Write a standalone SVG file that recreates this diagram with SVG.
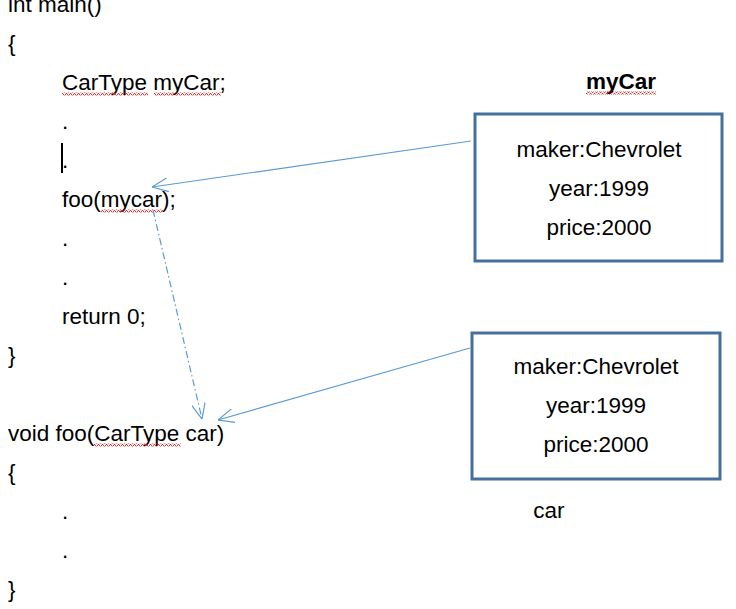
<svg xmlns="http://www.w3.org/2000/svg" width="736" height="609" viewBox="0 0 736 609">
<style>
.code{font-family:"Liberation Sans",Arial,sans-serif;font-size:22.5px;fill:#000}
.val{font-family:"Liberation Sans",Arial,sans-serif;font-size:22.5px;fill:#000;text-anchor:middle}
.bold{font-weight:bold}
.box{fill:#fff;stroke:#45709c;stroke-width:3}
.conn{fill:none;stroke:#5b9bd5;stroke-width:1.2}
.dashdot{stroke-dasharray:7 3 1.5 3}
</style>
<defs>
<marker id="open" viewBox="0 0 16 14" refX="16" refY="7" markerWidth="16" markerHeight="14" markerUnits="userSpaceOnUse" orient="auto">
<path d="M0,0 L16,7 L0,14" fill="none" stroke="#5b9bd5" stroke-width="1.2"/>
</marker>
<pattern id="squig" width="4" height="3" patternUnits="userSpaceOnUse">
<path d="M0,2.5 L1,2.5 L2,0.5 L3,0.5 L4,2.5" fill="none" stroke="#e02020" stroke-width="0.9"/>
</pattern>
</defs>
<rect width="736" height="609" fill="#fff"/>

<g id="code">
<text class="code" x="8" y="12">int main()</text>
<text class="code" x="8" y="51">{</text>
<text class="code" x="62" y="90">CarType myCar;</text>
<text class="code" x="62" y="129">.</text>
<text class="code" x="62" y="168">.</text>
<text class="code" x="62" y="207">foo(mycar);</text>
<text class="code" x="62" y="246">.</text>
<text class="code" x="62" y="285">.</text>
<text class="code" x="62" y="324">return 0;</text>
<text class="code" x="8" y="363">}</text>
<text class="code" x="8" y="441">void foo(CarType car)</text>
<text class="code" x="8" y="480">{</text>
<text class="code" x="62" y="519">.</text>
<text class="code" x="62" y="558">.</text>
<text class="code" x="8" y="597">}</text>
<line x1="62" y1="143" x2="62" y2="173" stroke="#000" stroke-width="2"/>
<rect x="62" y="92.5" width="86" height="3" fill="url(#squig)"/>
<rect x="154" y="92.5" width="67" height="3" fill="url(#squig)"/>
<rect x="101" y="209.5" width="62" height="3" fill="url(#squig)"/>
<rect x="94" y="443.5" width="87" height="3" fill="url(#squig)"/>
</g>

<g id="myCar">
<text class="val bold" x="621" y="89">myCar</text>
<rect x="586" y="91.5" width="70" height="3" fill="url(#squig)"/>
<rect class="box" x="475" y="114" width="247" height="147"/>
<text class="val" x="599" y="157">maker:Chevrolet</text>
<text class="val" x="599" y="196">year:1999</text>
<text class="val" x="599" y="235">price:2000</text>
</g>

<g id="car">
<rect class="box" x="472" y="333" width="248" height="146"/>
<text class="val" x="596" y="374">maker:Chevrolet</text>
<text class="val" x="596" y="413">year:1999</text>
<text class="val" x="596" y="452">price:2000</text>
<text class="val" x="549" y="518">car</text>
</g>

<g id="connectors">
<line class="conn" x1="471" y1="141" x2="152" y2="187" marker-end="url(#open)"/>
<line class="conn" x1="470" y1="348" x2="218" y2="420" marker-end="url(#open)"/>
<line class="conn dashdot" x1="153" y1="210" x2="202" y2="419" marker-end="url(#open)"/>
</g>
</svg>
